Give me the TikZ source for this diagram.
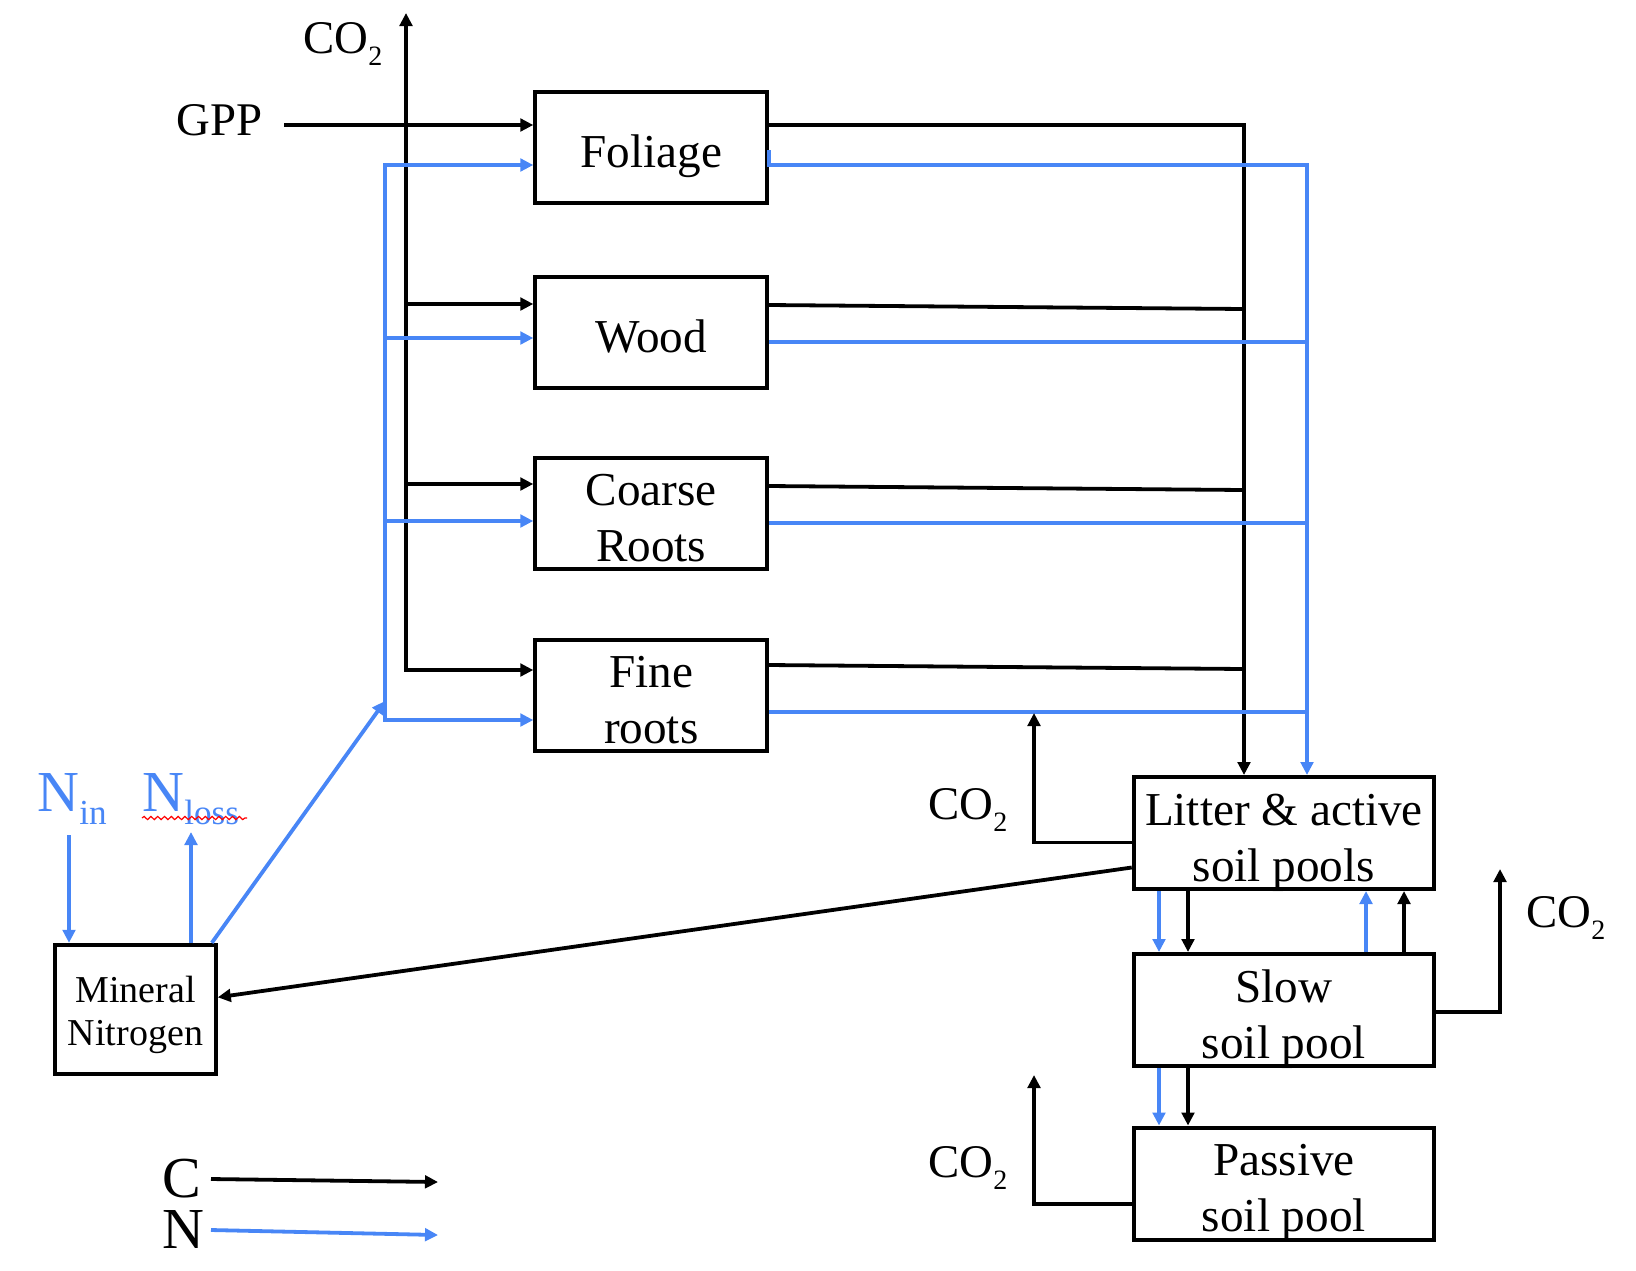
\documentclass[tikz,border=0pt]{standalone}
\usepackage{fontspec}
\setmainfont{Liberation Serif}
\usetikzlibrary{arrows.meta,decorations.pathmorphing,calc}
\definecolor{nblue}{RGB}{72,134,246}
\newcommand\cosub{\raisebox{-6pt}{\fontsize{14}{14}\selectfont 2}}
\newcommand\nsub[1]{\raisebox{-6.5pt}{\fontsize{17.6}{17.6}\selectfont #1}}
\begin{document}
\begin{tikzpicture}[x=0.5pt,y=-0.5pt,
  box/.style={draw, line width=2pt, minimum width=115.9pt, minimum height=55.5pt, inner sep=0pt},
  sbox/.style={box, minimum width=150.2pt, minimum height=56pt},
  mbox/.style={box, minimum width=80.3pt, minimum height=64.5pt},
  btxt/.style={font=\fontsize{23.6}{28}\selectfont, inner sep=0pt, anchor=base},
  mtxt/.style={font=\fontsize{19}{22}\selectfont, inner sep=0pt, anchor=base},
  lab/.style={font=\fontsize{23.4}{28.7}\selectfont, inner sep=0pt, anchor=base west},
  biglab/.style={font=\fontsize{29}{30}\selectfont, inner sep=0pt, anchor=base west},
  tip/.tip={Triangle[length=6.5pt,width=6.3pt]},
  cl/.style={line width=1.9pt, black},
  nl/.style={line width=1.9pt, nblue},
  ca/.style={cl, -tip},
  na/.style={nl, -tip}]
\useasboundingbox (0,0) rectangle (1636,1270);

% boxes
\node[box] (fol) at (651.2,147) {};
\node[box] (wood) at (651.2,332.5) {};
\node[box] (coarse) at (651.2,513) {};
\node[box] (fine) at (651.2,695) {};
\node[sbox] (lit) at (1283.9,833) {};
\node[sbox] (slow) at (1283.9,1010) {};
\node[sbox] (pas) at (1283.9,1183.5) {};
\node[mbox] (min) at (135.5,1009.3) {};

% box texts
\node[btxt] (folt) at ([yshift=-10pt]fol.center) {Foliage};
\node[btxt] (woodt) at ([yshift=-10pt]wood.center) {Wood};
\node[btxt] (coarset1) at ([yshift=3.9pt]coarse.center) {Coarse};
\node[btxt] (coarset2) at ([yshift=-24pt]coarse.center) {Roots};
\node[btxt] (finet1) at ([yshift=3.9pt]fine.center) {Fine};
\node[btxt] (finet2) at ([yshift=-24pt]fine.center) {roots};
\node[btxt] (litt1) at ([yshift=3.9pt]lit.center) {Litter \& active};
\node[btxt] (litt2) at ([yshift=-24pt]lit.center) {soil pools};
\node[btxt] (slowt1) at ([yshift=3.9pt]slow.center) {Slow};
\node[btxt] (slowt2) at ([yshift=-24pt]slow.center) {soil pool};
\node[btxt] (past1) at ([yshift=3.9pt]pas.center) {Passive};
\node[btxt] (past2) at ([yshift=-24pt]pas.center) {soil pool};
\node[mtxt] (mint1) at ([yshift=3.65pt]min.center) {Mineral};
\node[mtxt] (mint2) at ([yshift=-18pt]min.center) {Nitrogen};

% labels
\node[lab] (gpp) at (176,135) {GPP};
\node[lab] (co2a) at (303,53) {CO\cosub};
\node[lab] (co2l) at (928,819) {CO\cosub};
\node[lab] (co2s) at (1526,927) {CO\cosub};
\node[lab] (co2p) at (928,1177) {CO\cosub};
\node[biglab, text=nblue] (nin) at (37,811) {N\nsub{in}};
\node[biglab, text=nblue] (nloss) at (142,811) {N\nsub{loss}};
\draw[red, line width=0.6pt, decorate, decoration={snake,amplitude=0.8pt,segment length=3.4pt}] (142,818) -- (247,818);
\node[biglab, text height=19pt, text depth=0pt] (legc) at (162,1197) {C};
\node[biglab, text height=19pt, text depth=0pt] (legn) at (162,1248) {N};

% left carbon trunk
\coordinate (tt) at (406,13);
\coordinate (tb) at (406,670);
\coordinate (g0) at (284,125);
\coordinate (tw) at (406,304);
\coordinate (tc) at (406,484);
\draw[cl, tip-tip] (fine.west |- tb) -- (tb) -- (tt);
\draw[ca] (g0) -- (fol.west |- g0);
\draw[ca] (tw) -- (wood.west |- tw);
\draw[ca] (tc) -- (coarse.west |- tc);

% left nitrogen trunk
\coordinate (bt) at (385,165);
\coordinate (bb) at (385,720);
\coordinate (bw) at (385,338);
\coordinate (bc) at (385,521);
\coordinate (bd) at (385,701);
\draw[nl, tip-tip] (fol.west |- bt) -- (bt) -- (bb) -- (fine.west |- bb);
\draw[na] (bw) -- (wood.west |- bw);
\draw[na] (bc) -- (coarse.west |- bc);
\draw[na] ([xshift=-3pt]min.north east) -- (bd);

% right carbon collector
\coordinate (rk) at (1244,125);
\coordinate (rw0) at (1244,305);
\coordinate (rw1) at (1244,309);
\coordinate (rc0) at (1244,486);
\coordinate (rc1) at (1244,490);
\coordinate (rf0) at (1244,665);
\coordinate (rf1) at (1244,669);
\draw[ca] (fol.east |- rk) -- (rk) -- (lit.north -| rk);
\draw[cl] (wood.east |- rw0) -- (rw1);
\draw[cl] (coarse.east |- rc0) -- (rc1);
\draw[cl] (fine.east |- rf0) -- (rf1);

% right nitrogen collector
\coordinate (bk) at (1307,165);
\coordinate (bkw) at (1307,342);
\coordinate (bkc) at (1307,523);
\coordinate (bkf) at (1307,712);
\draw[na] ([yshift=-1.5pt]fol.east) |- (bk) -- (lit.north -| bk);
\draw[nl] (wood.east |- bkw) -- (bkw);
\draw[nl] (coarse.east |- bkc) -- (bkc);
\draw[nl] (fine.east |- bkf) -- (bkf);

% soil pool exchanges
\coordinate (xa) at (1159,0);
\coordinate (xb) at (1188,0);
\coordinate (xc) at (1366,0);
\coordinate (xd) at (1404,0);
\draw[na] (lit.south -| xa) -- (slow.north -| xa);
\draw[ca] (lit.south -| xb) -- (slow.north -| xb);
\draw[na] (slow.north -| xc) -- (lit.south -| xc);
\draw[ca] (slow.north -| xd) -- (lit.south -| xd);
\draw[na] (slow.south -| xa) -- (pas.north -| xa);
\draw[ca] (slow.south -| xb) -- (pas.north -| xb);

% respiration
\coordinate (lco) at (1034,713);
\coordinate (sco) at (1500,869);
\coordinate (pco) at (1034,1075);
\draw[ca] ([yshift=-4.75pt]lit.west) -| (lco);
\draw[ca] ([yshift=-1pt]slow.east) -| (sco);
\draw[ca] ([yshift=-10.25pt]pas.west) -| (pco);

% mineralisation
\draw[ca] ([yshift=-17.25pt]lit.west) -- ([yshift=6pt]min.east);

% N in / loss
\coordinate (ni) at (69,835);
\coordinate (nlo) at (191,832);
\draw[na] (ni) -- (min.north -| ni);
\draw[na] (min.north -| nlo) -- (nlo);

% legend
\coordinate (lc1) at (211,1179);
\coordinate (lc2) at (438,1182);
\coordinate (ln1) at (211,1230);
\coordinate (ln2) at (438,1235);
\draw[ca] (lc1) -- (lc2);
\draw[na] (ln1) -- (ln2);
\end{tikzpicture}
\end{document}
